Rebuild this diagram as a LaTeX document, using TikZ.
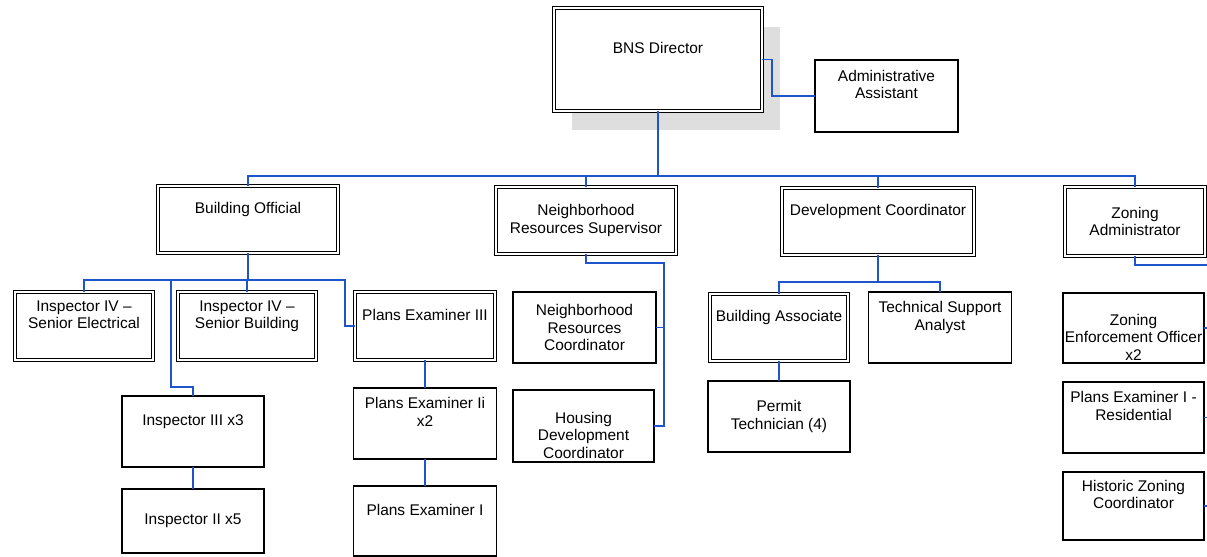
\documentclass[tikz,border=0pt]{standalone}
\usepackage{fontspec}
\setmainfont{Liberation Sans}
\usetikzlibrary{shadows}
\definecolor{linkblue}{RGB}{30,85,205}
\newcommand{\padline}{\\\strut}
\begin{document}
\begin{tikzpicture}[x=0.025cm, y=-0.025cm,
  box/.style 2 args={draw, fill=white, line width=0.8pt, minimum width=#1cm, minimum height=#2cm,
    inner xsep=1pt, inner ysep=0pt, outer sep=0pt, align=center, font=\fontsize{11}{12.5}\selectfont},
  dbox/.style 2 args={box={#1}{#2}, line width=0.6pt, double, double distance=1.5pt},
  link/.style={draw=linkblue, line width=1.05pt}]
\useasboundingbox (0,0) rectangle (1207,557);
\clip (0,0) rectangle (1207,557);
% top
\node[dbox={5.2}{2.575}, drop shadow={shadow xshift=0.45cm, shadow yshift=-0.475cm, fill=black!13, opacity=1}] (dir) at (658,59.5) {BNS Director\padline};
\node[box={3.575}{1.8}] (aa) at (886.5,96) {Administrative\\Assistant\padline};
% second row
\node[dbox={4.5}{1.675}] (bo) at (248,219.5) {Building Official\padline};
\node[dbox={4.5}{1.675}] (nrs) at (586,220.5) {Neighborhood\\Resources Supervisor};
\node[dbox={4.8}{1.675}] (dc) at (878,221.5) {Development Coordinator\padline};
\node[dbox={3.5}{1.725}] (za) at (1135,221.5) {Zoning\\Administrator};
% building official
\node[dbox={3.45}{1.7}] (ie) at (84,326) {Inspector IV –\\Senior Electrical\padline};
\node[dbox={3.45}{1.7}] (ib) at (247,326) {Inspector IV –\\Senior Building\padline};
\node[dbox={3.5}{1.7}] (pe3) at (425,326) {Plans Examiner III\padline};
\node[box={3.55}{1.775}] (i3) at (193,431.5) {Inspector III x3\padline};
\node[box={3.55}{1.6}] (i2) at (193,521) {Inspector II x5};
\node[box={3.575}{1.775}] (pe2) at (425,423.5) {Plans Examiner Ii\\x2\padline};
\node[box={3.575}{1.75}] (pe1) at (425,521) {Plans Examiner I\padline};
% neighborhood resources
\node[box={3.575}{1.775}] (nrc) at (584.5,327.5) {Neighborhood\\Resources\\Coordinator};
\node[box={3.525}{1.8}] (hdc) at (583.5,426) {\strut\\Housing\\Development\\Coordinator};
% development
\node[dbox={3.45}{1.675}] (ba) at (779,327.5) {Building Associate\padline};
\node[box={3.575}{1.775}] (tsa) at (940,327.5) {Technical Support\\Analyst\padline};
\node[box={3.55}{1.775}] (pt) at (779,416.5) {Permit\\Technician (4)};
% zoning
\node[box={3.525}{1.75}] (zeo) at (1133.5,328) {\strut\\Zoning\\Enforcement Officer\\x2};
\node[box={3.525}{1.775}] (per) at (1133.5,417.5) {Plans Examiner I -\\Residential\padline};
\node[box={3.525}{1.7}] (hzc) at (1133.5,506) {Historic Zoning\\Coordinator\padline};

\draw[link] (dir.east) -- ++(10,0) |- (aa.west);
\foreach \n in {bo,nrs,dc,za}
  \draw[link] (dir.south) -- ++(0,65) -| (\n.north);

\foreach \n in {ie,ib}
  \draw[link] (bo.south) -- ++(0,27) -| (\n.north);
\draw[link] (bo.south) -- ++(0,27) -- ++(97,0) |- (pe3.west);
\draw[link] (bo.south) -- ++(0,27) -- ++(-77,0) -- ++(0,107) -| (i3.north);
\draw[link] (i3.south) -- (i2.north);
\draw[link] (pe3.south) -- (pe2.north);
\draw[link] (pe2.south) -- (pe1.north);

\draw[link] (nrs.south) -- ++(0,9) -- ++(78,0) |- (nrc.east);
\draw[link] (nrs.south) -- ++(0,9) -- ++(78,0) |- (hdc.east);

\foreach \n in {ba,tsa}
  \draw[link] (dc.south) -- ++(0,27) -| (\n.north);
\draw[link] (ba.south) -- (pt.north);

\foreach \n in {zeo,per,hzc}
  \draw[link] (za.south) -- ++(0,9) -- ++(80,0) |- (\n.east);
\end{tikzpicture}
\end{document}
